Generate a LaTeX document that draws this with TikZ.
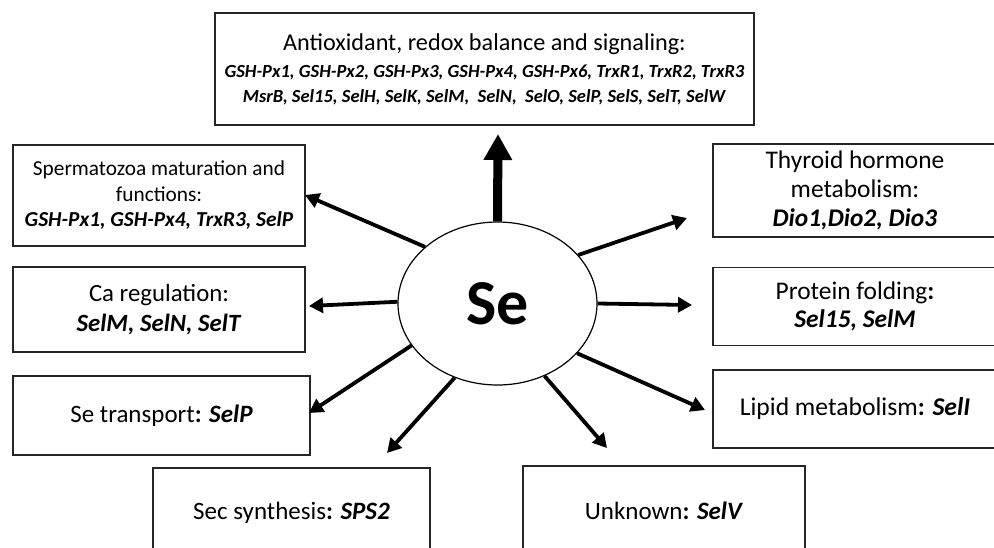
\documentclass[tikz,border=0pt]{standalone}
\usepackage{fontspec}
\setmainfont{Carlito}
\usetikzlibrary{shapes.geometric,arrows.meta}
\newcommand\gn[1]{\textbf{\textit{#1}}}
\begin{document}
\begin{tikzpicture}[x=1pt,y=-1pt,
  box/.style={draw=black!85,line width=1.4pt,inner sep=0pt,align=center,fill=white},
  txt/.style={font=\fontsize{25}{29}\selectfont},
  arr/.style={line width=3.8pt,-{Triangle[length=14pt,width=15pt]}},
  bigarr/.style={line width=9pt,-{Triangle[length=26pt,width=27pt]}}]
\useasboundingbox (0,0) rectangle (994,547);
\clip (0,0) rectangle (994,547);
\fill[white] (0,0) rectangle (994,547);

% centre
\node[ellipse,draw,line width=1.2pt,minimum width=199pt,minimum height=163pt,inner sep=0pt,
  font=\fontsize{64}{64}\selectfont\bfseries] (se) at (497.5,303.5) {Se};

% boxes
\node[box,minimum width=539pt,minimum height=112pt,font=\fontsize{18.5}{25}\selectfont] (anti) at (484.5,69)
  {{\fontsize{24.2}{24}\selectfont Antioxidant, redox balance and signaling:}\\[2pt]
   \gn{GSH-Px1, GSH-Px2, GSH-Px3, GSH-Px4, GSH-Px6, TrxR1, TrxR2, TrxR3}\\
   \gn{MsrB, Sel15, SelH, SelK, SelM,\ \ SelN,\ \ SelO, SelP, SelS, SelT, SelW}};

\node[box,minimum width=292pt,minimum height=101pt,font=\fontsize{21.3}{25.5}\selectfont] (sperm) at (159,195.5)
  {Spermatozoa maturation and\\functions:\\\gn{GSH-Px1, GSH-Px4, TrxR3, SelP}};

\node[box,minimum width=292pt,minimum height=85pt,font=\fontsize{24.8}{30}\selectfont] (ca) at (159,309.5)
  {Ca regulation:\\\gn{SelM, SelN, SelT}};

\node[box,txt,minimum width=297pt,minimum height=79pt] (trans) at (161.5,415.5)
  {Se transport\textbf{:} \gn{SelP}};

\node[box,txt,minimum width=277pt,minimum height=90pt] (sec) at (291.5,513)
  {Sec synthesis\textbf{:} \gn{SPS2}};

\node[box,txt,minimum width=282pt,minimum height=90pt] (unk) at (664,511)
  {Unknown\textbf{:} \gn{SelV}};

\node[box,minimum width=284pt,minimum height=93pt,font=\fontsize{25.4}{29}\selectfont] (thy) at (855,190.5)
  {Thyroid hormone\\metabolism:\\\gn{Dio1,Dio2, Dio3}};

\node[box,minimum width=284pt,minimum height=78pt,font=\fontsize{25.4}{28}\selectfont] (prot) at (855,306.5)
  {Protein folding\textbf{:}\\\gn{Sel15, SelM}};

\node[box,minimum width=284pt,minimum height=78pt,font=\fontsize{25.6}{29}\selectfont] (lip) at (855,409)
  {Lipid metabolism\textbf{:} \gn{SelI}};

% arrow tips
\coordinate (t1) at (498,134);
\coordinate (t2) at (305,195);
\coordinate (t3) at (309,306);
\coordinate (t4) at (309,413);
\coordinate (t5) at (387,453);
\coordinate (t6) at (607,448);
\coordinate (t7) at (705,410);
\coordinate (t8) at (692,305);
\coordinate (t9) at (687,218);

\draw[bigarr] (se.north) -- (t1);
\draw[arr] (se.142) -- (t2);
\draw[arr] (se.179) -- (t3);
\draw[arr] (se.206) -- (t4);
\draw[arr] (se.240) -- (t5);
\draw[arr] (se.303) -- (t6);
\draw[arr] (se.328) -- (t7);
\draw[arr] (se.0) -- (t8);
\draw[arr] (se.31.6) -- (t9);
\end{tikzpicture}
\end{document}
